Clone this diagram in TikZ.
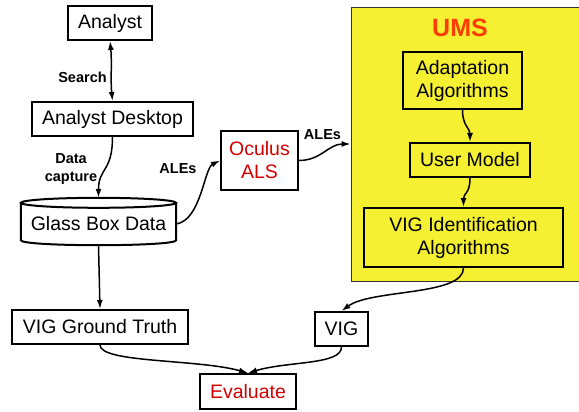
\documentclass[tikz,border=0pt]{standalone}
\usepackage{fontspec}
\setmainfont{Liberation Sans}
\usetikzlibrary{arrows.meta}
\definecolor{umsyellow}{RGB}{245,240,50}
\definecolor{alsred}{RGB}{210,0,0}
\definecolor{umsorange}{RGB}{255,60,0}

\begin{document}
\begin{tikzpicture}[
  x=1pt, y=-1pt,
  font=\fontsize{19.5}{23}\selectfont,
  unit/.style={draw, line width=2pt, inner sep=0pt, align=center},
  redunit/.style={unit, text=alsred},
  lbl/.style={font=\fontsize{14.5}{18}\selectfont\bfseries, align=center, inner sep=0pt},
  flow/.style={-{Latex[length=9pt,width=6pt]}, line width=1.5pt},
  twoway/.style={{Latex[length=9pt,width=6pt]}-{Latex[length=9pt,width=6pt]}, line width=1.5pt},
]
  \useasboundingbox (0,0) rectangle (579,412);

  % UMS block runs off the right edge of the page.
  \node[draw=black!80, line width=0.8pt, fill=umsyellow, inner sep=0pt,
        minimum width=232pt, minimum height=274pt] (ums) at (467,144) {};
  \node[font=\fontsize{25}{28}\selectfont\bfseries, text=umsorange] (umstitle) at (460,28) {UMS};
  \node[unit, minimum width=119pt, minimum height=57pt] (adapt) at (462.5,80.5) {Adaptation\\ Algorithms};
  \node[unit, minimum width=120pt, minimum height=34pt] (usermodel) at (470,160) {User Model};
  \node[unit, minimum width=199pt, minimum height=59pt] (vigid) at (463.5,237.5) {VIG Identification\\ Algorithms};
  \draw[flow] (adapt.south) .. controls +(0,16) and +(0,-14) .. (usermodel.north);
  \draw[flow] (usermodel.south) .. controls +(0,16) and +(0,-14) .. (vigid.north);

  % Analyst side
  \node[unit, minimum width=84pt, minimum height=34pt] (analyst) at (110,23) {Analyst};
  \node[unit, minimum width=161pt, minimum height=34pt] (desktop) at (112.5,119) {Analyst Desktop};
  \node[redunit, minimum width=77pt, minimum height=59pt] (oculus) at (259.5,160.5) {Oculus\\ ALS};

  % Glass Box Data store (cylinder drawn round the node)
  \node[inner sep=0pt, minimum width=155pt, minimum height=42pt] (gbd) at (98.5,224) {Glass Box Data};
  \draw[line width=2pt] (gbd.north) ellipse [x radius=77.5, y radius=5];
  \draw[line width=2pt] (gbd.north west) -- ([yshift=5pt]gbd.south west)
    .. controls +(0,6.67) and +(0,6.67) .. ([yshift=5pt]gbd.south east) -- (gbd.north east);
  \coordinate (gbdtop) at ([yshift=5pt]gbd.north);

  \node[unit, minimum width=176pt, minimum height=34pt] (truth) at (100,327) {VIG Ground Truth};
  \node[unit, minimum width=53pt, minimum height=34pt] (vig) at (341.5,329) {VIG};
  \node[redunit, minimum width=96pt, minimum height=35pt] (evaluate) at (248,391.5) {Evaluate};

  \node[lbl] (search) at (82.5,77) {Search};
  \node[lbl] (capture) at (71,169) {Data\\ capture};
  \node[lbl] (ales1) at (178,169) {ALEs};
  \node[lbl] (ales2) at (322.5,135) {ALEs};

  \draw[twoway] (analyst.south) .. controls +(2,20) and +(-2,-20) .. (desktop.north);
  \draw[flow] (desktop.south) .. controls +(0,35) and +(0,-30) .. (gbdtop);
  \draw[flow] (gbd.east) .. controls +(25,-4) and +(-16,8) .. (oculus.west);
  \draw[flow] (oculus.east) .. controls +(22,0) and +(-22,0) .. (ums.west);
  \draw[flow] (vigid.south) .. controls +(0,28) and +(30,-22) .. (vig.north);
  \draw[flow] (gbd.south) -- (truth.north);
  \draw[flow] (truth.south) .. controls +(0,18) and +(-50,-14) .. (evaluate.north);
  \draw[flow] (vig.south) .. controls +(0,18) and +(40,-12) .. (evaluate.north);
\end{tikzpicture}
\end{document}
